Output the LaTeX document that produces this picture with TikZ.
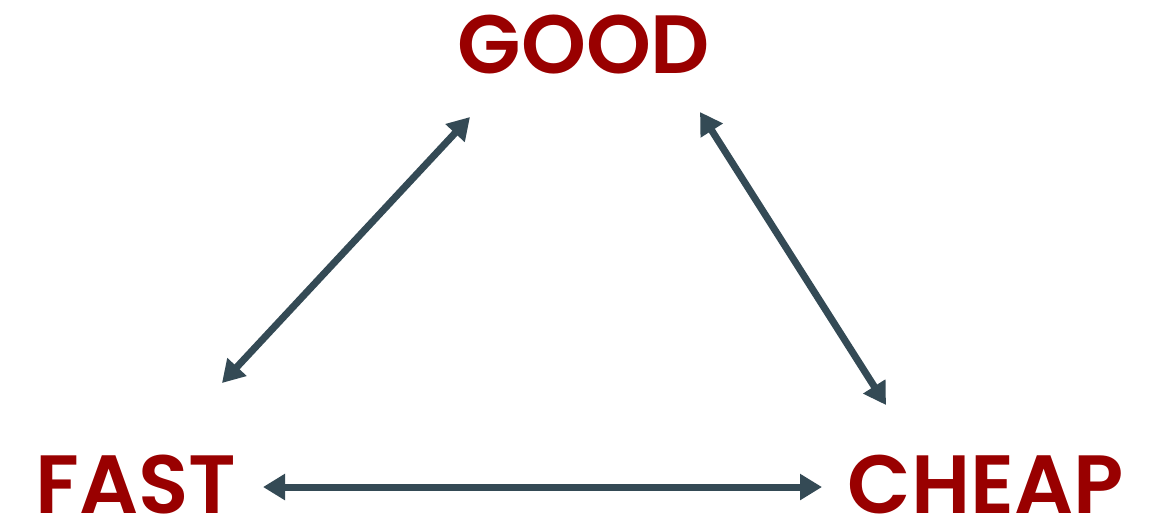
\documentclass[tikz,border=0pt]{standalone}
\usepackage{fontspec}
\setmainfont{Poppins}[BoldFont={Poppins SemiBold}]
\usepackage{xcolor}
\usetikzlibrary{arrows.meta}

\definecolor{wordred}{HTML}{990000}
\definecolor{arrowgray}{HTML}{344A55}

\begin{document}
\begin{tikzpicture}[
    x=0.01cm, y=-0.01cm,
    every node/.style={inner sep=0pt},
    corner/.style={text=wordred, font=\fontsize{23.5}{27}\selectfont\bfseries, anchor=base},
    link/.style={{Triangle[length=0.22cm, width=0.25cm]}-{Triangle[length=0.22cm, width=0.25cm]}, draw=arrowgray, line width=2pt}
]

    \useasboundingbox (0,0) rectangle (1149,526);

    % Corners
    \node[corner] (good) at (584, 73) {GOOD};
    \node[corner] (fast) at (136, 513) {FAST};
    \node[corner] (cheap) at (986, 513) {CHEAP};

    % Arrow ends
    \coordinate (fastTop) at (222, 383);
    \coordinate (goodLeft) at (470, 117);
    \coordinate (goodRight) at (700, 112);
    \coordinate (cheapTop) at (886, 405);
    \coordinate (fastRight) at (263, 487);
    \coordinate (cheapLeft) at (822, 487);

    % Links
    \draw[link] (fastTop) -- (goodLeft);
    \draw[link] (goodRight) -- (cheapTop);
    \draw[link] (fastRight) -- (cheapLeft);

\end{tikzpicture}
\end{document}
